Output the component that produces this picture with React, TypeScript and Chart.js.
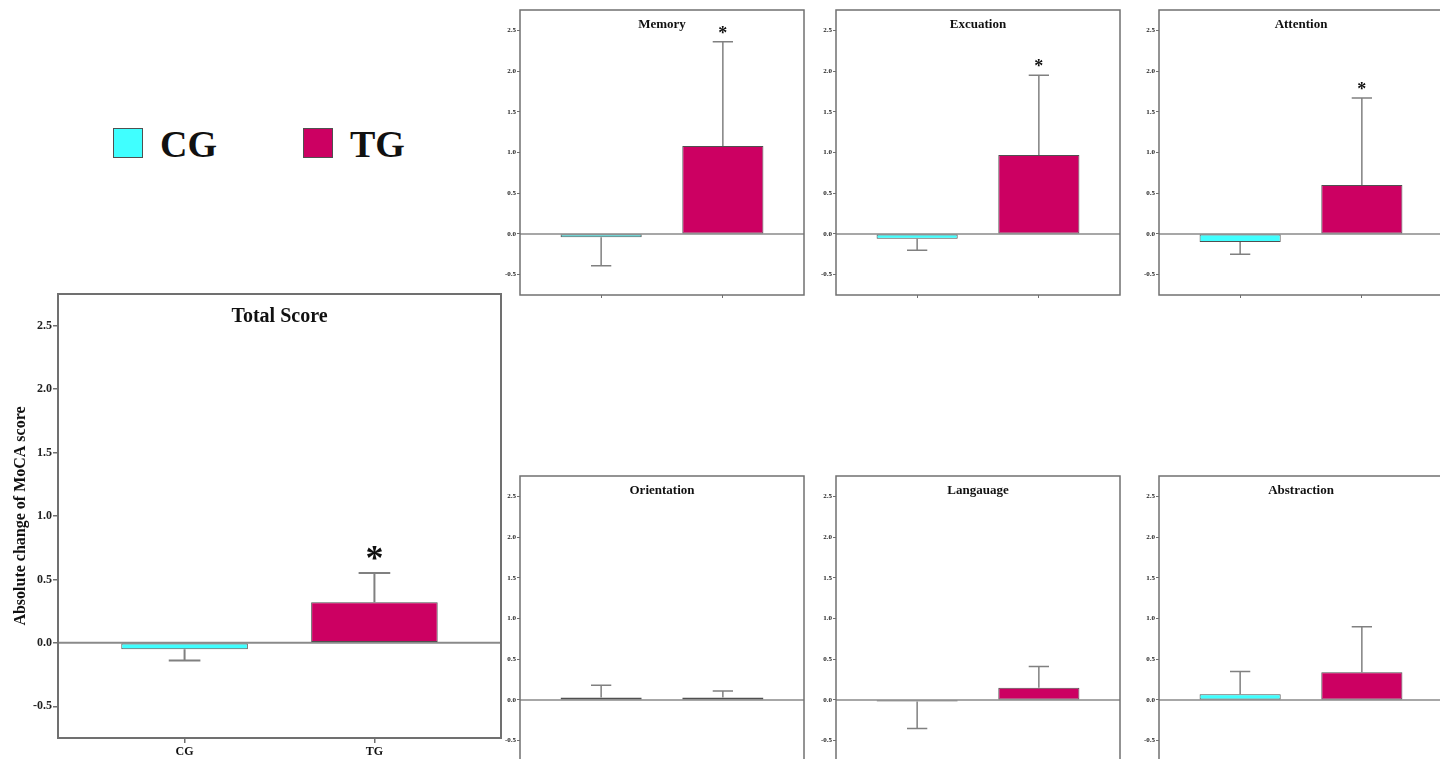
import React, { useEffect, useRef } from 'react';
import { Chart, registerables } from 'chart.js';

Chart.register(...registerables);

// ---------- data ----------
const groups = ['CG', 'TG'];
const groupX = [0, 1];
const groupColors = ['#40FFFF', '#CC0062'];
const yTicks = [-0.5, 0, 0.5, 1, 1.5, 2, 2.5];
const yMin = -0.75;
const yMax = 2.75;
const yAxisTitle = 'Absolute change of MoCA score';

const totalMeans = [-0.05, 0.32];
const totalErrEnds = [-0.14, 0.55];
const totalStars = [false, true];

const memoryMeans = [-0.04, 1.08];
const memoryErrEnds = [-0.39, 2.36];
const memoryStars = [false, true];

const excuationMeans = [-0.06, 0.97];
const excuationErrEnds = [-0.2, 1.95];
const excuationStars = [false, true];

const attentionMeans = [-0.1, 0.6];
const attentionErrEnds = [-0.25, 1.67];
const attentionStars = [false, true];

const orientationMeans = [0.03, 0.03];
const orientationErrEnds = [0.18, 0.11];
const orientationStars = [false, false];

const langauageMeans = [-0.02, 0.15];
const langauageErrEnds = [-0.35, 0.41];
const langauageStars = [false, false];

const abstractionMeans = [0.07, 0.34];
const abstractionErrEnds = [0.35, 0.9];
const abstractionStars = [false, false];

// ---------- layout ----------
const FONT = '"Liberation Serif", "Times New Roman", serif';

type Panel = {
  title: string;
  means: number[];
  errs: number[];
  stars: boolean[];
  big: boolean;
  boxLeft: number;
  boxTop: number;
  boxW: number;
  boxH: number;
};

const panels: Panel[] = [
  { title: 'Total Score', means: totalMeans, errs: totalErrEnds, stars: totalStars, big: true, boxLeft: 58, boxTop: 294, boxW: 443, boxH: 444 },
  { title: 'Memory', means: memoryMeans, errs: memoryErrEnds, stars: memoryStars, big: false, boxLeft: 520, boxTop: 10, boxW: 284, boxH: 285 },
  { title: 'Excuation', means: excuationMeans, errs: excuationErrEnds, stars: excuationStars, big: false, boxLeft: 836, boxTop: 10, boxW: 284, boxH: 285 },
  { title: 'Attention', means: attentionMeans, errs: attentionErrEnds, stars: attentionStars, big: false, boxLeft: 1159, boxTop: 10, boxW: 284, boxH: 285 },
  { title: 'Orientation', means: orientationMeans, errs: orientationErrEnds, stars: orientationStars, big: false, boxLeft: 520, boxTop: 476, boxW: 284, boxH: 285 },
  { title: 'Langauage', means: langauageMeans, errs: langauageErrEnds, stars: langauageStars, big: false, boxLeft: 836, boxTop: 476, boxW: 284, boxH: 285 },
  { title: 'Abstraction', means: abstractionMeans, errs: abstractionErrEnds, stars: abstractionStars, big: false, boxLeft: 1159, boxTop: 476, boxW: 284, boxH: 285 },
];

function dims(p: Panel) {
  const yAxisW = p.big ? 58 : 20;
  const xAxisH = p.big ? 21 : 10;
  const padTop = p.big ? 10 : 6;
  const padRight = 4;
  return {
    yAxisW,
    xAxisH,
    padTop,
    padRight,
    left: p.boxLeft - yAxisW,
    top: p.boxTop - padTop,
    width: yAxisW + p.boxW + padRight,
    height: padTop + p.boxH + xAxisH,
  };
}

function PanelChart({ p }: { p: Panel }) {
  const ref = useRef<HTMLCanvasElement | null>(null);
  const d = dims(p);

  useEffect(() => {
    if (!ref.current) return;
    const big = p.big;

    const decor = {
      id: 'decor' + p.title,
      beforeDatasetsDraw(chart: any) {
        const { ctx, chartArea, scales } = chart;
        const y0 = scales.y.getPixelForValue(0);
        ctx.save();
        ctx.strokeStyle = '#8a8a8a';
        ctx.lineWidth = big ? 2 : 1.5;
        ctx.beginPath();
        ctx.moveTo(chartArea.left, y0);
        ctx.lineTo(chartArea.right, y0);
        ctx.stroke();
        ctx.restore();
      },
      afterDatasetsDraw(chart: any) {
        const { ctx, chartArea, scales } = chart;
        const meta = chart.getDatasetMeta(0);
        ctx.save();
        // error bars
        ctx.strokeStyle = '#808080';
        ctx.lineWidth = big ? 2 : 1.5;
        p.means.forEach((m, i) => {
          const x = scales.x.getPixelForValue(groupX[i]);
          const ya = scales.y.getPixelForValue(m);
          const yb = scales.y.getPixelForValue(p.errs[i]);
          const cap = meta.data[i].width * 0.25;
          ctx.beginPath();
          ctx.moveTo(x, ya);
          ctx.lineTo(x, yb);
          ctx.moveTo(x - cap / 2, yb);
          ctx.lineTo(x + cap / 2, yb);
          ctx.stroke();
          if (p.stars[i]) {
            ctx.fillStyle = '#111';
            ctx.font = `bold ${big ? 36 : 18}px ${FONT}`;
            ctx.textAlign = 'center';
            ctx.textBaseline = 'alphabetic';
            ctx.fillText('*', x, yb - 3);
          }
        });
        // frame
        ctx.strokeStyle = '#707070';
        ctx.lineWidth = big ? 2 : 1.5;
        ctx.strokeRect(chartArea.left, chartArea.top, chartArea.right - chartArea.left, chartArea.bottom - chartArea.top);
        // title
        ctx.fillStyle = '#111';
        ctx.font = `bold ${big ? 20 : 13}px ${FONT}`;
        ctx.textAlign = 'center';
        ctx.textBaseline = 'middle';
        ctx.fillText(p.title, (chartArea.left + chartArea.right) / 2, chartArea.top + (big ? 23 : 14.5));
        ctx.restore();
      },
    };

    const chart = new Chart(ref.current, {
      type: 'bar',
      data: {
        datasets: [
          {
            label: p.title,
            data: p.means.map((v, i) => ({ x: groupX[i], y: v })),
            backgroundColor: groupColors,
            borderColor: '#505050',
            borderWidth: 1,
            borderSkipped: false,
            categoryPercentage: 1,
            barPercentage: 2 / 3,
          } as any,
        ],
      },
      options: {
        animation: false,
        responsive: false,
        devicePixelRatio: 1,
        events: [],
        layout: { padding: { top: d.padTop, right: d.padRight, left: 0, bottom: 0 } },
        plugins: { legend: { display: false }, tooltip: { enabled: false }, title: { display: false } },
        scales: {
          x: {
            type: 'linear',
            min: -2 / 3,
            max: 5 / 3,
            offset: false,
            afterBuildTicks(scale: any) {
              scale.ticks = groupX.map((v) => ({ value: v }));
            },
            afterFit(scale: any) {
              scale.height = d.xAxisH;
              scale.paddingLeft = 0;
              scale.paddingRight = 0;
            },
            grid: {
              display: true,
              offset: false,
              drawOnChartArea: false,
              drawTicks: true,
              tickLength: big ? 5 : 3,
              color: '#707070',
              lineWidth: big ? 1.5 : 1,
            },
            border: { display: false },
            ticks: {
              display: big,
              autoSkip: false,
              maxRotation: 0,
              padding: 2,
              color: '#111',
              font: { family: FONT, size: 12, weight: 'bold' },
              callback: (v: any) => groups[groupX.indexOf(Number(v))] ?? '',
            },
          },
          y: {
            type: 'linear',
            min: yMin,
            max: yMax,
            afterBuildTicks(scale: any) {
              scale.ticks = yTicks.map((v) => ({ value: v }));
            },
            afterFit(scale: any) {
              scale.width = d.yAxisW;
              scale.paddingTop = 0;
              scale.paddingBottom = 0;
            },
            grid: {
              display: true,
              drawOnChartArea: false,
              drawTicks: true,
              tickLength: big ? 5 : 3,
              color: '#707070',
              lineWidth: big ? 1.5 : 1,
            },
            border: { display: false },
            title: {
              display: big,
              text: yAxisTitle,
              color: '#111',
              font: { family: FONT, size: 16, weight: 'bold' },
              padding: { top: 11, bottom: 0 },
            },
            ticks: {
              padding: 1,
              color: '#222',
              font: { family: FONT, size: big ? 12 : 7, weight: 'bold' },
              callback: (v: any) => Number(v).toFixed(1),
            },
          },
        },
      },
      plugins: [decor],
    } as any);

    return () => chart.destroy();
  }, []);

  return (
    <canvas
      ref={ref}
      width={d.width}
      height={d.height}
      style={{ position: 'absolute', left: d.left, top: d.top, width: d.width, height: d.height }}
    />
  );
}

function LegendItem({ label, color, left }: { label: string; color: string; left: number }) {
  return (
    <div style={{ position: 'absolute', left, top: 125, height: 40 }}>
      <div
        style={{
          position: 'absolute',
          left: 0,
          top: 3,
          width: 28,
          height: 28,
          background: color,
          border: '1.5px solid #505050',
        }}
      />
      <span
        style={{
          position: 'absolute',
          left: 47,
          top: 0,
          fontFamily: FONT,
          fontWeight: 'bold',
          fontSize: 38,
          lineHeight: '38px',
          color: '#111',
          whiteSpace: 'nowrap',
        }}
      >
        {label}
      </span>
    </div>
  );
}

export default function App() {
  return (
    <div
      style={{
        position: 'fixed',
        left: 0,
        top: 0,
        width: '100vw',
        height: '100vh',
        overflow: 'hidden',
        background: '#ffffff',
      }}
    >
      <LegendItem label={groups[0]} color={groupColors[0]} left={113} />
      <LegendItem label={groups[1]} color={groupColors[1]} left={303} />
      {panels.map((p) => (
        <PanelChart key={p.title} p={p} />
      ))}
    </div>
  );
}
